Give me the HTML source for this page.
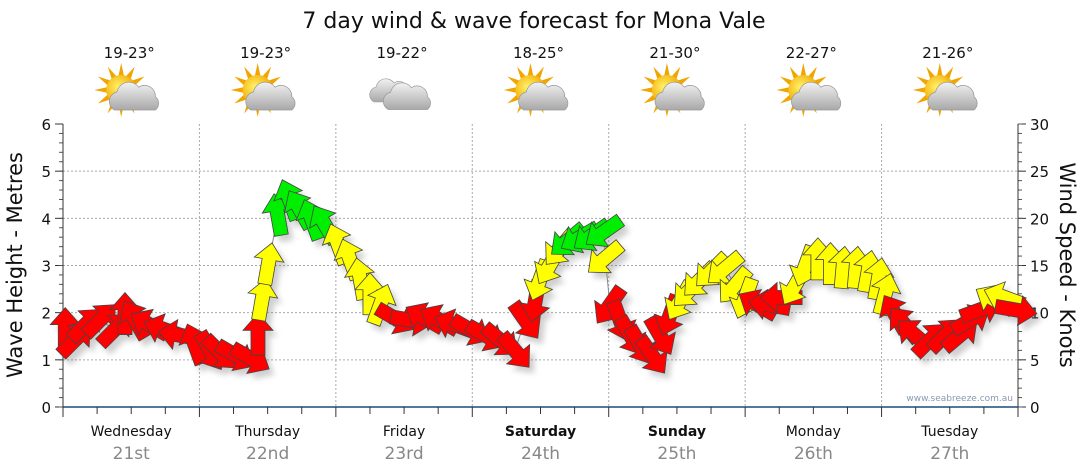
<!DOCTYPE html>
<html><head><meta charset="utf-8"><style>
html,body{margin:0;padding:0;background:#fff;}
svg{display:block;font-family:"DejaVu Sans","Liberation Sans",sans-serif;}
</style></head><body>
<svg id="chart" width="1080" height="475" viewBox="0 0 1080 475" xmlns="http://www.w3.org/2000/svg">
<defs>
<filter id="sh" x="-50%" y="-50%" width="200%" height="200%"><feGaussianBlur stdDeviation="3"/></filter>
<radialGradient id="sun" cx="0.4" cy="0.4" r="0.6"><stop offset="0" stop-color="#fff36a"/><stop offset="1" stop-color="#f2a800"/></radialGradient>
<linearGradient id="cloud" x1="0" y1="0" x2="0" y2="1"><stop offset="0" stop-color="#f2f2f2"/><stop offset="1" stop-color="#a8a8a8"/></linearGradient>
</defs>
<text x="534" y="28" text-anchor="middle" font-size="22" fill="#111">7 day wind &amp; wave forecast for Mona Vale</text>
<g id="grid"></g>
<g id="axes"></g>
<g id="icons"></g>
<g id="series"></g>
<text transform="translate(22,265) rotate(-90)" text-anchor="middle" font-size="21" fill="#111">Wave Height - Metres</text>
<text transform="translate(1060,265) rotate(90)" text-anchor="middle" font-size="21" fill="#111">Wind Speed - Knots</text>
<text x="1013" y="401" text-anchor="end" font-size="9" fill="#8a9ab0">www.seabreeze.com.au</text>
</svg>
<script>
const days = ["Wednesday","Thursday","Friday","Saturday","Sunday","Monday","Tuesday"];
const dates = ["21st","22nd","23rd","24th","25th","26th","27th"];
const temps = ["19-23°","19-23°","19-22°","18-25°","21-30°","22-27°","21-26°"];
const weather = ["sun","sun","cloud","sun","sun","sun","sun"];
const boldDays = [false,false,false,true,true,false,false];
const waveTicks = [0,1,2,3,4,5,6];
const windTicks = [0,5,10,15,20,25,30];
const hours = [0.4,2.1,3.9,6.5,9.1,10.9,12.7,15.3,17.9,20.6,23.2,25.9,27.6,30.3,32.9,34.3,35,36.1,37.8,39.9,41.7,43.8,46.1,48.4,50.5,52.3,54,55.8,58.4,61.1,63.7,66.3,69,71.6,74.3,76.9,79.5,81.3,83.1,83.9,85.7,87.5,88.9,91,93.1,95.2,95.4,96.2,98,99.8,101.5,103.6,105,106.8,108.6,110.3,112.1,114.2,116.5,118.2,120,122.3,124.4,126.5,128.8,130.6,132.8,135,137.2,139.5,141.6,143.4,144.6,146.4,148.1,149.9,152.5,155.2,157.8,159.6,161.3,164,165.7,167.5];
const speeds = [8.2,7.1,8.7,9.2,8.2,9.8,9.2,8.7,8.2,7.6,6.6,6.0,5.8,5.5,5.2,7.6,11.3,15.1,20.3,21.9,20.9,19.8,19.3,17.2,15.6,13.5,11.9,10.8,9.4,9.2,9.4,9.2,8.7,8.2,7.6,7.1,6.0,9.2,11.3,13.5,15.1,16.9,17.7,18.0,18.2,18.6,15.8,10.8,9.2,7.6,6.6,5.5,7.6,9.8,11.3,12.4,13.5,14.5,14.7,12.9,11.6,10.8,10.8,11.6,12.9,15.0,15.6,15.1,14.7,14.7,14.3,13.5,11.9,9.8,8.7,7.6,7.1,7.6,7.6,9.2,10.3,11.3,11.6,10.3,9.8];
const dirs = [0,45,45,45,45,0,-30,-60,-70,-80,-20,150,135,120,120,0,10,10,-10,-20,-30,-20,-30,-20,-20,-10,0,20,120,100,-60,-60,-70,120,120,130,140,145,190,200,210,220,230,240,235,235,230,215,160,150,150,145,150,200,210,225,225,225,230,220,200,-60,-80,-90,210,200,0,0,5,5,10,10,15,-30,-40,-50,45,45,50,60,70,-60,-70,100,110];
const colors = ["r","r","r","r","r","r","r","r","r","r","r","r","r","r","r","r","y","y","g","g","g","g","g","y","y","y","y","y","r","r","r","r","r","r","r","r","r","r","r","y","y","y","g","g","g","g","y","r","r","r","r","r","r","r","y","y","y","y","y","y","y","r","r","r","y","y","y","y","y","y","y","y","y","r","r","r","r","r","r","r","r","y","y","r","r"];

const NS="http://www.w3.org/2000/svg";
const X0=63,X1=1018,Y0=407,Y1=124;
const xH=h=>X0+(X1-X0)*h/168;
const yW=m=>Y0-(Y0-Y1)*m/6;
const yK=k=>Y0-(Y0-Y1)*k/30;
function mk(tag,attrs,parent){const e=document.createElementNS(NS,tag);for(const k in attrs)e.setAttribute(k,attrs[k]);parent.appendChild(e);return e;}
const grid=document.getElementById('grid'),axes=document.getElementById('axes'),icons=document.getElementById('icons'),series=document.getElementById('series');
const dotted={stroke:"#aaa","stroke-width":1,"stroke-dasharray":"2,2"};
waveTicks.forEach(t=>{
  if(t>0&&t<6){const l=mk('line',Object.assign({x1:X0,x2:X1,y1:yW(t),y2:yW(t)},dotted),grid);
  
  }
  const tx=mk('text',{x:X0-12,y:yW(t)+6,"text-anchor":"end","font-size":15,fill:"#111"},axes);tx.textContent=t;
  
  
  mk('line',{x1:X0-8,x2:X0,y1:yW(t),y2:yW(t),stroke:"#333"},axes);
});
for(let m=0;m<=6;m+=0.2){mk('line',{x1:X0-4,x2:X0,y1:yW(m),y2:yW(m),stroke:"#555"},axes);}
windTicks.forEach(t=>{
  const tx=mk('text',{x:X1+12,y:yK(t)+6,"font-size":15,fill:"#111"},axes);tx.textContent=t;
  
  
  mk('line',{x1:X1,x2:X1+8,y1:yK(t),y2:yK(t),stroke:"#333"},axes);
});
for(let k=0;k<=30;k++){mk('line',{x1:X1,x2:X1+4,y1:yK(k),y2:yK(k),stroke:"#555"},axes);}
mk('line',{x1:X0,x2:X0,y1:Y1,y2:Y0,stroke:"#333"},axes);
mk('line',{x1:X1,x2:X1,y1:Y1,y2:Y0,stroke:"#333"},axes);
mk('line',{x1:X0,x2:X1,y1:Y0,y2:Y0,stroke:"#1d4a7a","stroke-width":1.5},axes);
for(let h=0;h<=168;h+=6){mk('line',{x1:xH(h),x2:xH(h),y1:Y0,y2:Y0+(h%24==0?10:7),stroke:"#333"},axes);}
days.forEach((d,i)=>{
  const cx=xH(i*24+12);
  if(i>0){const l=mk('line',Object.assign({x1:xH(i*24),x2:xH(i*24),y1:Y1,y2:Y0},dotted),grid);
  
  }
  const t=mk('text',{x:cx,y:436,"text-anchor":"middle","font-size":14,fill:"#111","font-weight":boldDays[i]?"bold":"normal"},axes);t.textContent=d;
  
  
  const t2=mk('text',{x:cx,y:459,"text-anchor":"middle","font-size":17,fill:"#888"},axes);t2.textContent=dates[i];
  
  
  const t3=mk('text',{x:cx-2,y:58,"text-anchor":"middle","font-size":15,fill:"#111"},icons);t3.textContent=temps[i];
  
  
  const g=mk('g',{transform:`translate(${cx-4},96)`},icons);
  
  
  const cloud=(dx,dy,s)=>{const c=mk('g',{transform:`translate(${dx},${dy}) scale(${s})`},g);
    mk('path',{d:"M-18,10 a8,8 0 0 1 2,-15 a10,10 0 0 1 18,-4 a9,9 0 0 1 14,8 a7,7 0 0 1 0,11 z",fill:"url(#cloud)",stroke:"#999","stroke-width":0.6},c);};
  if(weather[i]=="sun"){
    for(let a=0;a<360;a+=30){mk('polygon',{points:"-3,-13 3,-13 0,-27",fill:"#f0a500",transform:`translate(-6,-6) rotate(${a})`},g);}
    mk('circle',{cx:-6,cy:-6,r:15,fill:"url(#sun)"},g);
    cloud(9,2,1.2);
  } else {cloud(-8,-4,1.0);cloud(9,2,1.15);}
});
let pts=hours.map((h,i)=>xH(h)+","+yK(speeds[i])).join(" ");
const pl=mk('polyline',{points:pts,fill:"none",stroke:"#888","stroke-width":1},series);


const arrowD="M0,-22 L15,-5 L7,-5 L7,20 L-7,20 L-7,-5 L-15,-5 Z";
const fillC={r:"#ff0000",y:"#ffff00",g:"#00ee00"};
const sg=mk('g',{opacity:0.35,filter:"url(#sh)"},series);
hours.forEach((h,i)=>{mk('path',{d:arrowD,fill:"#777",transform:`translate(${xH(h)+5},${yK(speeds[i])+6}) rotate(${dirs[i]})`},sg);});
hours.forEach((h,i)=>{
  const a=mk('path',{d:arrowD,fill:fillC[colors[i]],stroke:"#444","stroke-width":0.8,transform:`translate(${xH(h)},${yK(speeds[i])}) rotate(${dirs[i]})`},series);
  
  
});
</script>
</body></html>
